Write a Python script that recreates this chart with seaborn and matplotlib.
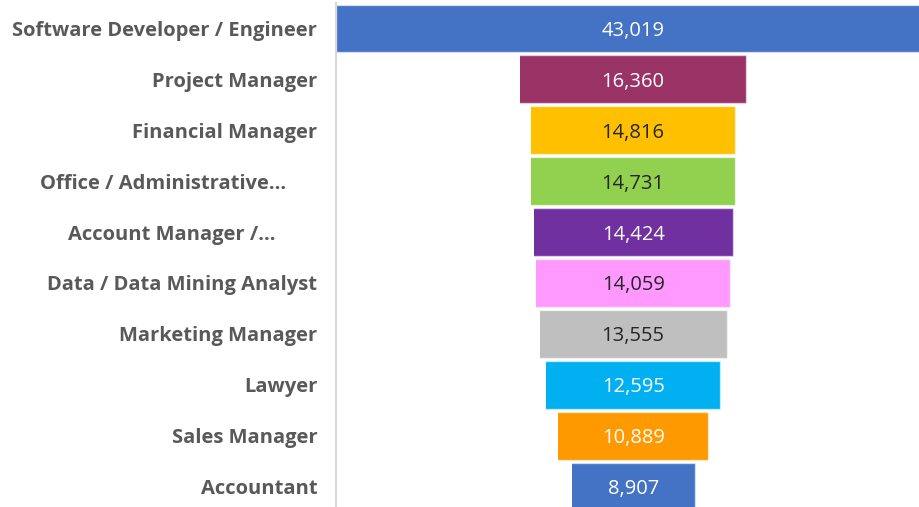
import matplotlib
matplotlib.use("Agg")
import matplotlib.pyplot as plt
import seaborn as sns
import pandas as pd

categories = [
    "Software Developer / Engineer",
    "Project Manager",
    "Financial Manager",
    "Office / Administrative…      ",
    "Account Manager /…        ",
    "Data / Data Mining Analyst",
    "Marketing Manager",
    "Lawyer",
    "Sales Manager",
    "Accountant",
]
values = [43019, 16360, 14816, 14731, 14424, 14059, 13555, 12595, 10889, 8907]
colors = ["#4472C4", "#993366", "#FFC000", "#92D050", "#7030A0",
          "#FF99FF", "#BFBFBF", "#00B0F0", "#FF9900", "#4472C4"]
label_colors = ["white", "white", "#262626", "#262626", "white",
                "#262626", "#262626", "white", "white", "white"]

sns.set_theme(style="white")
plt.rcParams["font.family"] = ["Open Sans", "DejaVu Sans"]

top = max(values)
offsets = [(top - v) / 2 for v in values]
df = pd.DataFrame({"cat": categories, "value": values,
                   "offset": offsets,
                   "total": [o + v for o, v in zip(offsets, values)]})

W, H = 919, 507
fig = plt.figure(figsize=(W / 100, H / 100), dpi=100)
ax_left, ax_right = 336, 919
row_h = 50.9
y_top = 28.5 - row_h / 2
y_bot = 486.5 + row_h / 2
ax = fig.add_axes([ax_left / W, 1 - y_bot / H, (ax_right - ax_left) / W, (y_bot - y_top) / H])

pal = dict(zip(categories, colors))
sns.barplot(data=df, x="total", y="cat", hue="cat", palette=pal, order=categories,
            hue_order=categories, orient="h", width=0.94, legend=False, ax=ax,
            edgecolor=(1, 1, 1, 0.55), linewidth=1.0, saturation=1)
sns.barplot(data=df, x="offset", y="cat", color="white", order=categories,
            orient="h", width=0.98, ax=ax, linewidth=0, saturation=1)

scale = 0.013814  # px per unit
ax.set_xlim(0, (ax_right - ax_left) / scale)
ax.set_ylim(len(categories) - 0.5, -0.5)

for i, (o, v) in enumerate(zip(offsets, values)):
    ax.text(o + v / 2, i, f"{v:,}", ha="center", va="center_baseline",
            fontsize=14.5, color=label_colors[i])

ax.set_xlabel("")
ax.set_ylabel("")
ax.set_xticks([])
ax.tick_params(axis="y", length=0, pad=13.5)
for lab in ax.get_yticklabels():
    lab.set_fontweight("bold")
    lab.set_fontsize(14.5)
    lab.set_color("#595959")
for s in ["top", "right", "bottom"]:
    ax.spines[s].set_visible(False)
ax.spines["left"].set_color("#D9D9D9")
ax.spines["left"].set_linewidth(1.5)
ax.spines["left"].set_zorder(5)

fig.savefig("out.png", dpi=100)
